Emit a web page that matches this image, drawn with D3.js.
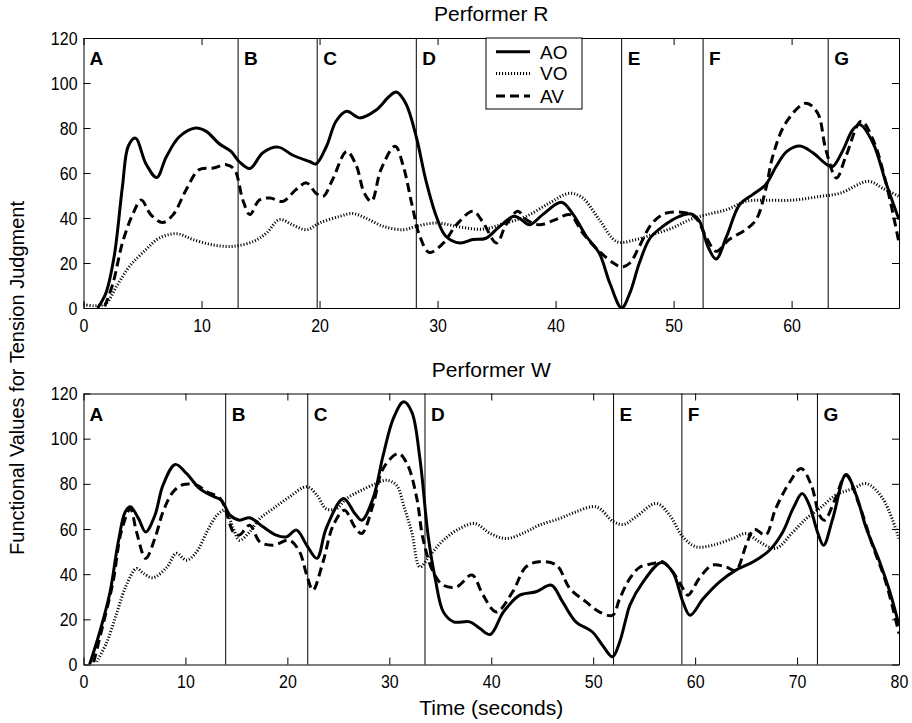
<!DOCTYPE html>
<html>
<head>
<meta charset="utf-8">
<script src="https://cdn.jsdelivr.net/npm/d3@7"></script>
<style>
  html, body { margin: 0; padding: 0; background: #fff; }
  svg { display: block; font-family: "Liberation Sans", Arial, Helvetica, sans-serif; }
</style>
</head>
<body>
<svg id="chart" width="912" height="723"></svg>
<script>
// ---------- DATA ----------
const seriesNames = ["AO", "VO", "AV"];
const segLabels = ["A", "B", "C", "D", "E", "F", "G"];
const yTicks = [0, 20, 40, 60, 80, 100, 120];

// Performer R
const rTitle = "Performer R";
const rXMax = 69.1;
const rXTicks = [0, 10, 20, 30, 40, 50, 60];
const rSegments = [0, 13.1, 19.8, 28.2, 45.6, 52.5, 63.1];
const rAO_t = [1.2, 1.9, 2.6, 3.3, 3.8, 4.4, 5.3, 6.2, 7.0, 8.1, 9.5, 10.4, 11.5, 12.5, 13.2, 14.1, 15.2, 16.5, 17.7, 19.2, 19.7, 20.6, 21.4, 22.3, 23.4, 24.8, 25.9, 26.5, 27.3, 28.2, 29.0, 29.9, 30.7, 31.9, 33.0, 34.1, 35.2, 36.4, 36.9, 37.8, 38.9, 40.5, 41.5, 42.6, 43.7, 44.6, 45.6, 46.3, 47.1, 48.0, 49.1, 50.5, 51.5, 52.2, 52.9, 53.6, 54.5, 55.6, 56.7, 57.8, 58.7, 59.6, 60.7, 61.8, 63.0, 63.5, 64.3, 65.2, 65.8, 66.9, 68.0, 69.1];
const rAO_v = [0, 6.7, 23, 54, 72, 75.5, 64, 58, 67, 76, 80, 78.5, 73, 69.6, 65, 62, 69, 71.5, 68, 65, 64, 72, 83, 87.4, 84.5, 88, 94, 96, 91, 76, 57, 40.7, 31.9, 28.9, 30.4, 31, 36, 40.7, 40, 37, 41.5, 47, 41.5, 31.9, 24.4, 11, 0, 6.7, 20, 31, 36.3, 40.7, 41.8, 38.5, 27.4, 21.8, 31.9, 46, 50.4, 54.8, 63, 69.6, 72, 69, 63.7, 63, 69.6, 79.3, 81.5, 73.3, 55.6, 39.3];
const rVO_t = [0, 0.9, 1.9, 2.8, 3.9, 5.3, 6.4, 7.9, 9.3, 11.0, 12.7, 14.4, 15.5, 16.6, 17.7, 18.9, 20.0, 21.7, 22.8, 23.9, 25.4, 27.1, 28.2, 29.9, 31.9, 33.8, 35.8, 37.5, 39.5, 41.2, 42.3, 43.7, 45.2, 46.8, 48.2, 49.9, 51.4, 52.8, 54.5, 56.1, 57.8, 60.1, 62.4, 64.1, 66.5, 67.7, 69.1];
const rVO_v = [1.5, 1, 2, 9.6, 18.5, 26, 31, 33, 30.4, 28, 27.4, 29.6, 33.3, 39.3, 37, 34.8, 37.8, 40.7, 42, 40, 36.3, 34.8, 36.3, 37.8, 36, 35, 37.8, 40.7, 46.7, 51, 48.9, 39.3, 29.5, 30.4, 32.6, 35.6, 39.3, 41.5, 43.7, 47.4, 47.9, 47.9, 49.6, 51, 56.3, 53.3, 49.6];
const rAV_t = [1.8, 2.5, 3.3, 4.2, 4.9, 5.7, 6.7, 7.6, 8.7, 9.8, 11.0, 12.1, 12.8, 13.5, 14.1, 14.9, 15.8, 16.9, 18.0, 18.9, 19.7, 20.3, 21.1, 22.3, 23.1, 23.8, 24.4, 25.2, 26.4, 27.1, 27.8, 28.5, 29.3, 30.5, 31.6, 33.0, 33.8, 35.0, 35.8, 36.8, 37.5, 38.6, 40.0, 41.2, 42.3, 43.7, 44.9, 45.6, 46.3, 47.1, 48.2, 49.4, 51.1, 51.9, 52.8, 53.6, 54.7, 56.1, 57.0, 57.8, 58.4, 59.5, 61.2, 62.2, 62.9, 63.8, 64.6, 65.9, 66.9, 68.0, 69.1];
const rAV_v = [0.7, 11, 29, 42, 48, 41.5, 38, 41.5, 52.6, 61.5, 62.2, 63.7, 61.5, 48, 41.5, 48, 48.9, 47.4, 52.6, 55.6, 51, 49.6, 57, 69.6, 63.5, 51, 47.4, 61.5, 71.9, 63, 46.7, 31.9, 24.7, 28.9, 37, 43, 38.5, 28.9, 37, 43, 39.3, 37, 39.3, 41.5, 33.3, 25.2, 20, 18.2, 20, 27.4, 37.8, 42.2, 42.2, 40, 31.1, 25.2, 30.4, 34.8, 39.3, 52.6, 67.4, 82.2, 91, 86.7, 70.4, 57.8, 67.4, 83, 74.8, 55.6, 28.9];

// Performer W
const wTitle = "Performer W";
const wXMax = 80;
const wXTicks = [0, 10, 20, 30, 40, 50, 60, 70, 80];
const wSegments = [0, 13.95, 22.0, 33.5, 52.0, 58.7, 72.0];
const wAO_t = [0.6, 1.6, 2.6, 3.4, 4.1, 4.6, 5.4, 6.1, 7.0, 7.8, 9.0, 10.1, 11.4, 12.7, 13.5, 14.4, 15.3, 16.3, 17.6, 18.9, 19.9, 20.9, 21.9, 22.9, 23.8, 25.5, 26.6, 27.3, 28.4, 29.4, 30.4, 31.4, 32.2, 33.0, 33.8, 34.5, 35.3, 36.3, 37.9, 38.9, 39.9, 41.2, 42.8, 44.4, 45.9, 47.0, 48.3, 49.9, 50.9, 51.9, 52.6, 53.2, 53.6, 54.9, 56.7, 57.8, 58.8, 59.5, 60.8, 62.4, 64.0, 65.7, 67.3, 68.6, 69.6, 70.5, 71.2, 72.0, 72.6, 73.5, 74.8, 75.8, 76.8, 78.1, 79.1, 80.0];
const wAO_v = [0, 14.5, 32, 54, 67.6, 69.8, 64.6, 58.7, 66, 79.4, 88.6, 84.6, 77.9, 74.5, 72.8, 66, 63.9, 65, 61, 57.3, 56.5, 59.5, 52.8, 47, 60.2, 73.5, 67, 63.9, 73.5, 92.7, 109, 116.3, 111.9, 91.2, 57.3, 38.1, 23.3, 18.9, 18.9, 15.9, 13.3, 23.3, 30.7, 32.2, 35.1, 27.7, 18.9, 14.5, 8.6, 3.4, 10, 20, 26.3, 36.6, 45.2, 41, 27.7, 21.8, 29.2, 36.6, 41.8, 45.5, 50.6, 58.7, 69, 75.7, 70.6, 58.7, 52.8, 64.6, 84.1, 75, 60.2, 45.5, 32.2, 17.4];
const wVO_t = [1.3, 2.3, 3.3, 4.2, 5.2, 5.9, 6.8, 8.2, 9.1, 10.1, 11.1, 12.1, 13.1, 13.9, 14.7, 15.3, 16.3, 17.3, 18.6, 20.2, 21.9, 22.9, 23.8, 24.8, 25.8, 27.2, 28.7, 29.7, 30.7, 31.5, 32.2, 33.0, 34.0, 35.3, 36.9, 38.4, 39.9, 41.5, 43.4, 44.7, 46.7, 48.3, 50.3, 52.0, 53.0, 54.2, 56.2, 57.5, 58.8, 60.1, 61.7, 63.7, 65.0, 66.3, 67.9, 69.6, 70.9, 72.2, 73.8, 75.5, 76.8, 78.4, 80.0];
const wVO_v = [1.2, 10, 23.3, 35.1, 42.5, 40.3, 38.4, 43.2, 49.2, 46.2, 49.9, 58.7, 66.1, 68.3, 60.2, 55, 58.7, 64.6, 69, 74.2, 78.7, 75, 69, 69, 73.5, 77, 80.1, 81.6, 79.4, 69, 58.7, 43.2, 48.4, 55, 60.2, 62.4, 58, 55.8, 58.7, 61.7, 64.6, 67.6, 69.8, 63.2, 62, 65.4, 71.3, 66.1, 56.5, 52.1, 52.8, 55.8, 58, 54.3, 51.4, 58.7, 64.6, 69, 75, 77.9, 80.1, 73.5, 55.8];
const wAV_t = [1.0, 1.9, 2.9, 3.7, 4.6, 5.2, 6.1, 7.0, 7.8, 8.8, 9.8, 11.1, 12.1, 13.4, 14.0, 14.7, 15.3, 16.3, 17.3, 18.6, 20.2, 21.2, 21.9, 22.5, 23.5, 24.5, 25.6, 26.6, 27.3, 28.4, 29.4, 30.9, 31.8, 32.7, 33.3, 34.3, 35.3, 36.6, 38.1, 39.2, 40.5, 42.1, 43.4, 44.7, 46.4, 47.7, 49.3, 50.6, 51.9, 52.6, 53.6, 54.6, 55.9, 56.8, 57.8, 58.8, 59.3, 60.4, 61.7, 63.0, 64.0, 65.0, 65.8, 66.9, 67.9, 69.3, 70.4, 71.4, 72.2, 72.7, 73.7, 74.8, 76.1, 77.4, 78.7, 80.0];
const wAV_v = [1, 17.4, 36.6, 58.7, 69, 58.7, 47, 55.8, 67.6, 76.5, 79.7, 79.4, 76.5, 73.5, 67.6, 58.7, 57.3, 61.7, 54.3, 52.8, 55, 49.9, 39.6, 32.9, 45.5, 61.7, 68.3, 61, 58, 70.6, 86.8, 93.4, 88.3, 73.5, 55.8, 41, 35.1, 34.4, 39.6, 30.7, 23.3, 32.2, 43.2, 45.5, 44, 33.7, 27.7, 23.3, 21.8, 29.2, 38.1, 43.2, 44.7, 45.5, 41, 33.7, 30.7, 38.1, 44, 43.2, 41.8, 52.8, 59.9, 57.3, 69, 80.9, 86.8, 79.4, 66.1, 63.9, 72.8, 83.8, 70.6, 52.8, 36.6, 13.7];

const xLabel = "Time (seconds)";
const yLabel = "Functional Values for Tension Judgment";

// ---------- STYLE ----------
const styles = {
  AO: { width: 3, dash: null },
  VO: { width: 3, dash: "1.1,1.9" },
  AV: { width: 3, dash: "9,5" }
};

// ---------- DRAW ----------
const svg = d3.select("#chart");
const left = 83.5, right = 899;

function condense(sel, k) {
  sel.each(function () {
    const len = this.getComputedTextLength();
    if (len > 0) {
      d3.select(this).attr("textLength", len * k).attr("lengthAdjust", "spacingAndGlyphs");
    }
  });
}

const panels = [
  { id: "r", title: rTitle, xMax: rXMax, xTicks: rXTicks, segs: rSegments, top: 38, bottom: 308,
    series: { AO: [rAO_t, rAO_v], VO: [rVO_t, rVO_v], AV: [rAV_t, rAV_v] }, legend: true },
  { id: "w", title: wTitle, xMax: wXMax, xTicks: wXTicks, segs: wSegments, top: 393.5, bottom: 664.5,
    series: { AO: [wAO_t, wAO_v], VO: [wVO_t, wVO_v], AV: [wAV_t, wAV_v] }, legend: false }
];

panels.forEach(p => {
  const x = d3.scaleLinear().domain([0, p.xMax]).range([left, right]);
  const y = d3.scaleLinear().domain([0, 120]).range([p.bottom, p.top]);
  const g = svg.append("g");

  svg.append("defs").append("clipPath").attr("id", "clip-" + p.id)
    .append("rect").attr("x", left).attr("y", p.top).attr("width", right - left).attr("height", p.bottom - p.top);

  // segment lines
  g.selectAll(".seg").data(p.segs.slice(1)).enter().append("line")
    .attr("x1", d => x(d)).attr("x2", d => x(d))
    .attr("y1", p.top).attr("y2", p.bottom)
    .attr("stroke", "#000").attr("stroke-width", 1);

  // segment labels
  g.selectAll(".segl").data(p.segs).enter().append("text")
    .attr("x", d => x(d) + 6).attr("y", p.top + 27)
    .attr("font-size", 19).attr("font-weight", "bold")
    .text((d, i) => segLabels[i]);

  // curves
  const line = d3.line().x(d => x(d[0])).y(d => y(d[1])).curve(d3.curveCatmullRom.alpha(0.5));
  const cg = g.append("g").attr("clip-path", "url(#clip-" + p.id + ")");
  ["VO", "AV", "AO"].forEach(name => {
    const [ts, vs] = p.series[name];
    const pts = ts.map((t, i) => [t, vs[i]]);
    cg.append("path").datum(pts)
      .attr("d", line)
      .attr("fill", "none").attr("stroke", "#000")
      .attr("stroke-width", styles[name].width)
      .attr("stroke-dasharray", styles[name].dash)
      .attr("stroke-linejoin", "round");
  });

  // axes
  const axB = d3.axisBottom(x).tickValues(p.xTicks).tickFormat(d3.format("d")).tickSizeInner(-7).tickSizeOuter(0).tickPadding(10.5);
  const axT = d3.axisTop(x).tickValues(p.xTicks).tickFormat("").tickSizeInner(-7).tickSizeOuter(0);
  const axL = d3.axisLeft(y).tickValues(yTicks).tickFormat(d3.format("d")).tickSizeInner(-7).tickSizeOuter(0).tickPadding(6);
  const axR = d3.axisRight(y).tickValues(yTicks).tickFormat("").tickSizeInner(-7).tickSizeOuter(0);

  [[axB, `translate(0,${p.bottom})`], [axT, `translate(0,${p.top})`],
   [axL, `translate(${left},0)`], [axR, `translate(${right},0)`]].forEach(([ax, tr]) => {
    const a = g.append("g").attr("transform", tr).call(ax);
    a.selectAll("text").attr("font-size", 19).attr("fill", "#000").attr("font-family", "Liberation Sans, Arial, sans-serif");
    condense(a.selectAll("text"), 0.84);
    a.selectAll("line").attr("stroke", "#000");
    a.select(".domain").attr("stroke", "#000");
  });

  // title
  svg.append("text").attr("x", (left + right) / 2).attr("y", p.top - 17)
    .attr("text-anchor", "middle").attr("font-size", 21).text(p.title);

  // legend
  if (p.legend) {
    const lg = svg.append("g");
    lg.append("rect").attr("x", 486).attr("y", p.top).attr("width", 96).attr("height", 71)
      .attr("fill", "#fff").attr("stroke", "#000").attr("stroke-width", 1);
    const ys = [51.7, 73.5, 96];
    seriesNames.forEach((name, i) => {
      lg.append("line").attr("x1", 496).attr("x2", 530).attr("y1", ys[i]).attr("y2", ys[i])
        .attr("stroke", "#000").attr("stroke-width", styles[name].width)
        .attr("stroke-dasharray", styles[name].dash);
      lg.append("text").attr("x", 540).attr("y", ys[i]).attr("dy", "0.36em")
        .attr("font-size", 19).text(name);
    });
  }
});

// axis labels
svg.append("text").attr("x", (left + right) / 2).attr("y", 715)
  .attr("text-anchor", "middle").attr("font-size", 21).text(xLabel);
svg.append("text").attr("transform", "translate(24,378) rotate(-90)")
  .attr("text-anchor", "middle").attr("font-size", 20).text(yLabel);
</script>
</body>
</html>
